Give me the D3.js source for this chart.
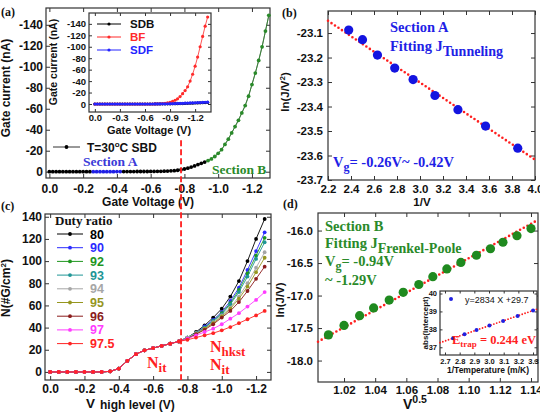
<!DOCTYPE html>
<html>
<head>
<meta charset="utf-8">
<script src="https://cdn.jsdelivr.net/npm/d3@7"></script>
<style>
  body { margin: 0; background: #fff; }
  svg { display: block; }
</style>
</head>
<body>
<svg id="fig" width="540" height="412"></svg>
<script>
// ---------- data ----------
// (a) gate current vs gate voltage, T=30C SBD
const gateV = [0, -0.02, -0.04, -0.06, -0.08, -0.10, -0.12, -0.14, -0.16, -0.18, -0.20, -0.22, -0.24, -0.26, -0.28, -0.30,
  -0.32, -0.34, -0.36, -0.38, -0.40, -0.42, -0.44, -0.46, -0.48, -0.50, -0.52, -0.54, -0.56, -0.58, -0.60, -0.62, -0.64,
  -0.66, -0.68, -0.70, -0.72, -0.74, -0.76, -0.78, -0.80, -0.82, -0.84, -0.86, -0.88, -0.90, -0.92, -0.94, -0.96, -0.98,
  -1.00, -1.02, -1.04, -1.06, -1.08, -1.10, -1.12, -1.14, -1.16, -1.18, -1.20, -1.22, -1.24, -1.26, -1.28, -1.30];
const gateI = [0, 0, 0, 0, 0, 0, 0, 0, 0, 0, 0, 0, 0, 0, 0, 0, 0, 0, 0, 0, -0.1, -0.1, -0.1, -0.1, -0.1, -0.1, -0.2, -0.2,
  -0.2, -0.2, -0.3, -0.3, -0.4, -0.4, -0.5, -0.6, -0.8, -1.0, -1.4, -1.9, -2.6, -3.4, -4.4, -5.5, -6.8, -8.0, -9.2, -10.6,
  -12.2, -14.5, -17.5, -21, -26, -31, -37, -43, -49, -56, -63, -72, -83, -94, -106, -119, -134, -149];
const sectionA = [-0.26, -0.42];
const sectionB = [-0.94, -1.30];

// (a) inset: SDB / BF / SDF
const insetV = [0, -0.03, -0.06, -0.09, -0.12, -0.15, -0.18, -0.21, -0.24, -0.27, -0.30, -0.33, -0.36, -0.39, -0.42, -0.45,
  -0.48, -0.51, -0.54, -0.57, -0.60, -0.63, -0.66, -0.69, -0.72, -0.75, -0.78, -0.81, -0.84, -0.87, -0.90, -0.93, -0.96,
  -0.99, -1.02, -1.05, -1.08, -1.11, -1.14, -1.17, -1.20, -1.23, -1.26, -1.29, -1.32, -1.35];
const sdbI = [0, 0, 0, 0, 0, 0, 0, 0, 0, 0, 0, 0, 0, 0, 0, 0, 0, 0, 0, 0, 0, 0, 0, 0,
  -0.1, -0.1, -0.1, -0.2, -0.2, -0.3, -0.3, -0.4, -0.5, -0.6, -0.7, -0.8, -1.0, -1.1, -1.3, -1.5, -1.7, -1.9, -2.1, -2.3, -2.5, -2.7];
const bfI = [0, 0, 0, 0, 0, 0, 0, 0, 0, 0, 0, 0, 0, 0, 0, 0, 0, 0, 0, 0, 0, 0, 0, 0,
  -0.1, -0.2, -0.4, -0.7, -1.2, -2, -3, -4.5, -6.5, -9, -13, -18, -23.5, -30, -40, -52, -66, -82, -100, -118, -136, -152];
const sdfI = [0, 0, 0, 0, 0, 0, 0, 0, 0, 0, 0, 0, 0, 0, 0, 0, 0, 0, 0, 0, 0, 0, 0, 0,
  -0.1, -0.1, -0.2, -0.2, -0.3, -0.4, -0.5, -0.6, -0.7, -0.9, -1.0, -1.2, -1.4, -1.6, -1.8, -2.0, -2.2, -2.4, -2.6, -2.8, -3.0, -3.2];

// (b) section A, tunneling fit
const invV = [2.38, 2.50, 2.63, 2.78, 2.94, 3.13, 3.33, 3.57, 3.85];
const lnJV2 = [-23.088, -23.127, -23.19, -23.243, -23.29, -23.355, -23.413, -23.48, -23.57];
const fitBx = [2.2, 4.0];
const fitBy = [-23.05, -23.617];

// (c) N vs V high level for each duty ratio
const vHigh = [0, -0.05, -0.10, -0.15, -0.20, -0.25, -0.30, -0.35, -0.40, -0.45, -0.50, -0.55, -0.60, -0.65, -0.70, -0.75,
  -0.80, -0.85, -0.90, -0.95, -1.00, -1.05, -1.10, -1.15, -1.20, -1.25];
const nCommon = [0, 0, 0, 0, 0, 0, 0, 0.5, 3, 10, 16, 19.5, 21.5, 23.5, 25.5, 27.5];
const n80 = [31, 36, 42, 49, 57, 68, 82, 100, 120, 138];
const n90 = [31, 35, 41, 47, 54, 64, 76, 92, 109, 126];
const n92 = [31, 35, 40, 46, 53, 62, 74, 89, 105, 121];
const n93 = [31, 35, 40, 46, 52, 61, 72, 86, 102, 117];
const n94 = [31, 35, 39, 45, 51, 58, 68, 80, 94, 108];
const n95 = [30, 34, 39, 44, 50, 57, 66, 77, 90, 103];
const n96 = [30, 34, 38, 43, 49, 55, 63, 73, 84, 95];
const n97 = [30, 33, 36, 39, 43, 48, 53, 59, 65, 72];
const n975 = [29, 31, 33, 35, 37.5, 40.5, 44, 47.5, 51, 55];
const dutyLabels = ["80", "90", "92", "93", "94", "95", "96", "97", "97.5"];
const dutyColors = ["#000000", "#2b2bff", "#1f961f", "#1f9696", "#a6a6a6", "#96961f", "#8b1c1c", "#ff3cff", "#ff2424"];
const dutyHigh = [n80, n90, n92, n93, n94, n95, n96, n97, n975];

// (d) section B, Frenkel-Poole fit
const sqrtV = [1.010, 1.020, 1.030, 1.039, 1.049, 1.058, 1.068, 1.077, 1.086, 1.095, 1.105, 1.114, 1.122, 1.131, 1.140];
const lnJV = [-17.605, -17.46, -17.31, -17.19, -17.07, -16.95, -16.83, -16.71, -16.59, -16.49, -16.38, -16.28, -16.18, -16.08, -15.97];
const fitDx = [1.0033, 1.1445];
const fitDy = [-17.71, -15.836];
// (d) inset: intercept vs 1/T
const invT = [2.755, 2.833, 2.915, 3.003, 3.096, 3.195, 3.300];
const absIntercept = [37.51, 37.73, 37.96, 38.21, 38.47, 38.75, 39.05];
const fitSlope = 2834, fitIntercept = 29.7;

// ---------- drawing ----------
const SANS = "'Liberation Sans', Arial, sans-serif";
const SERIF = "'Liberation Serif', 'Times New Roman', serif";
const RED = "#ff1f1f";
const BLUE = "#1f1fe6";
const GREEN = "#2a8a2a";

const svg = d3.select("#fig");
svg.append("rect").attr("width", 540).attr("height", 412).attr("fill", "#fff");

const f1 = v => v.toFixed(1);
const f2 = v => v.toFixed(2);

// frame with inward ticks on all four sides (Origin style)
function axes(g, x, y, o) {
  const [l, r] = x.range(), [b, t] = y.range();
  const tl = o.tl || 4;
  const style = s => {
    s.attr("font-family", SANS).attr("font-size", o.fs).attr("font-weight", "bold");
    s.select(".domain").remove();
    s.selectAll("line").attr("stroke", "#333");
    s.selectAll("text").attr("fill", "#111");
  };
  g.append("g").attr("transform", `translate(0,${b})`)
    .call(d3.axisBottom(x).tickValues(o.xt).tickFormat(o.xf).tickSizeInner(-tl).tickSizeOuter(0).tickPadding(o.xp))
    .call(style);
  g.append("g").attr("transform", `translate(0,${t})`)
    .call(d3.axisTop(x).tickValues(o.xt).tickFormat("").tickSizeInner(-tl).tickSizeOuter(0))
    .call(style);
  g.append("g").attr("transform", `translate(${l},0)`)
    .call(d3.axisLeft(y).tickValues(o.yt).tickFormat(o.yf).tickSizeInner(-tl).tickSizeOuter(0).tickPadding(o.yp))
    .call(style);
  g.append("g").attr("transform", `translate(${r},0)`)
    .call(d3.axisRight(y).tickValues(o.yt).tickFormat("").tickSizeInner(-tl).tickSizeOuter(0))
    .call(style);
  g.append("rect").attr("x", l).attr("y", t).attr("width", r - l).attr("height", b - t)
    .attr("fill", "none").attr("stroke", "#333").attr("stroke-width", 1.2);
}

function vLabel(g, cx, cy, fs, font) {
  return g.append("text").attr("transform", `translate(${cx},${cy}) rotate(-90)`)
    .attr("text-anchor", "middle").attr("font-family", font || SANS).attr("font-weight", "bold")
    .attr("font-size", fs).attr("fill", "#111");
}

function txt(g, x, y, fs, font, color) {
  return g.append("text").attr("x", x).attr("y", y).attr("font-family", font).attr("font-weight", "bold")
    .attr("font-size", fs).attr("fill", color || "#111");
}

// panel letters
[["(a)", 1, 16], ["(b)", 282, 17], ["(c)", 1, 210], ["(d)", 283, 208]].forEach(([s, x, y]) =>
  txt(svg, x, y, 12, SERIF).text(s));

// ===== (a) =====
const xA = d3.scaleLinear().domain([0.02, -1.307]).range([46, 270]);
const yA = d3.scaleLinear().domain([6, -156]).range([178, 8]);
const gA = svg.append("g");
axes(gA, xA, yA, { xt: d3.range(0, -1.21, -0.2), yt: d3.range(0, -141, -20), xf: f1, yf: d => d, fs: 12, xp: 6, yp: 3 });

const ptsA = gateV.map((v, i) => ({ v, i: gateI[i] }));
const inA = d => d.v <= sectionA[0] + 1e-9 && d.v >= sectionA[1] - 1e-9;
const inB = d => d.v <= sectionB[0] + 1e-9;
gA.append("path").datum(ptsA)
  .attr("d", d3.line().x(d => xA(d.v)).y(d => yA(d.i)))
  .attr("fill", "none").attr("stroke", "#444").attr("stroke-width", 0.8);
gA.append("path").datum(ptsA.filter(inB))
  .attr("d", d3.line().x(d => xA(d.v)).y(d => yA(d.i)))
  .attr("fill", "none").attr("stroke", GREEN).attr("stroke-width", 0.8);
gA.append("g").selectAll("circle").data(ptsA).join("circle")
  .attr("cx", d => xA(d.v)).attr("cy", d => yA(d.i)).attr("r", 1.9)
  .attr("fill", d => inB(d) ? GREEN : (inA(d) ? BLUE : "#000"));

// legend of (a)
gA.append("line").attr("x1", 53).attr("x2", 80).attr("y1", 147).attr("y2", 147).attr("stroke", "#333").attr("stroke-width", 1);
gA.append("circle").attr("cx", 66.5).attr("cy", 147).attr("r", 1.9).attr("fill", "#000");
const tA = txt(gA, 87, 151.5, 12, SANS);
tA.append("tspan").text("T=30");
tA.append("tspan").attr("font-size", 8).attr("dy", -5).text("o");
tA.append("tspan").attr("dy", 5).text("C SBD");
txt(gA, 83, 166, 13.5, SERIF, "#3a3ad8").text("Section A");
txt(gA, 212, 174, 13.5, SERIF, GREEN).text("Section B");
vLabel(gA, 10, 88, 12).text("Gate current (nA)");
txt(gA, 148, 206, 12, SANS).attr("text-anchor", "middle").text("Gate Voltage (V)");

// inset of (a)
const xI = d3.scaleLinear().domain([0.07, -1.39]).range([89, 211]);
const yI = d3.scaleLinear().domain([14, -159]).range([112, 13]);
const gI = svg.append("g");
gI.append("rect").attr("x", 89).attr("y", 13).attr("width", 122).attr("height", 99).attr("fill", "#fff");
axes(gI, xI, yI, { xt: [0, -0.3, -0.6, -0.9, -1.2], yt: d3.range(0, -141, -20), xf: f1, yf: d => d, fs: 9.5, xp: 2, yp: 3, tl: 3 });
const insetSeries = [
  { name: "SDB", vals: sdbI, color: "#000" },
  { name: "BF", vals: bfI, color: "#ff2a2a" },
  { name: "SDF", vals: sdfI, color: "#2424ff" }
];
insetSeries.forEach(s => {
  const pts = insetV.map((v, i) => ({ v, i: s.vals[i] }));
  gI.append("path").datum(pts).attr("d", d3.line().x(d => xI(d.v)).y(d => yI(d.i)))
    .attr("fill", "none").attr("stroke", s.color).attr("stroke-width", 0.8);
  gI.append("g").selectAll("circle").data(pts).join("circle")
    .attr("cx", d => xI(d.v)).attr("cy", d => yI(d.i)).attr("r", 1.6).attr("fill", s.color);
});
insetSeries.forEach((s, k) => {
  const yy = 24 + k * 13;
  gI.append("line").attr("x1", 97).attr("x2", 121).attr("y1", yy).attr("y2", yy).attr("stroke", s.color).attr("stroke-width", 1);
  gI.append("circle").attr("cx", 109).attr("cy", yy).attr("r", 1.6).attr("fill", s.color);
  txt(gI, 130, yy + 4, 11.5, SANS, s.color === "#000" ? "#111" : s.color).text(s.name);
});
vLabel(gI, 57, 62, 10.5).text("Gate current (nA)");
txt(gI, 149, 134, 11, SANS).attr("text-anchor", "middle").text("Gate Voltage (V)");

// ===== (b) =====
const xB = d3.scaleLinear().domain([2.2, 4.0]).range([328, 535]);
const yB = d3.scaleLinear().domain([-23.7, -23.01]).range([180, 11]);
const gB = svg.append("g");
axes(gB, xB, yB, { xt: d3.range(2.2, 4.01, 0.2), yt: d3.range(-23.7, -23.05, 0.1), xf: f1, yf: f1, fs: 11.5, xp: 5, yp: 5 });
gB.append("path").datum(fitBx.map((x, i) => [x, fitBy[i]]))
  .attr("d", d3.line().x(d => xB(d[0])).y(d => yB(d[1])))
  .attr("stroke", RED).attr("stroke-width", 2.6).attr("stroke-dasharray", "0 4.2").attr("stroke-linecap", "round").attr("fill", "none");
gB.selectAll("circle").data(invV).join("circle")
  .attr("cx", d => xB(d)).attr("cy", (d, i) => yB(lnJV2[i])).attr("r", 4.6).attr("fill", "#1414e0");
txt(gB, 390, 32, 14.5, SERIF, BLUE).text("Section A");
const tB = txt(gB, 390, 51, 14.5, SERIF, BLUE);
tB.append("tspan").text("Fitting  J");
tB.append("tspan").attr("dy", 5).attr("font-size", 14).text("Tunneling");
const vgB = txt(gB, 333, 167, 14.5, SERIF, BLUE);
vgB.append("tspan").text("V");
vgB.append("tspan").attr("dy", 4).attr("font-size", 12).text("g");
vgB.append("tspan").attr("dy", -4).text("= -0.26V~ -0.42V");
const lB = vLabel(gB, 289, 92, 11.5);
lB.append("tspan").text("ln(J/V");
lB.append("tspan").attr("dy", -4).attr("font-size", 8).text("2");
lB.append("tspan").attr("dy", 4).text(")");
txt(gB, 422, 206, 11.5, SANS).attr("text-anchor", "middle").text("1/V");

// ===== (c) =====
const xC = d3.scaleLinear().domain([0.03, -1.287]).range([45, 271]);
const yC = d3.scaleLinear().domain([-7.3, 142.5]).range([380, 214]);
const gC = svg.append("g");
axes(gC, xC, yC, { xt: d3.range(0, -1.21, -0.2), yt: d3.range(0, 141, 20), xf: f1, yf: d => d, fs: 12, xp: 4, yp: 3 });
dutyHigh.forEach((hi, k) => {
  const vals = nCommon.concat(hi);
  const pts = vHigh.map((v, i) => [v, vals[i]]);
  gC.append("path").datum(pts).attr("d", d3.line().x(d => xC(d[0])).y(d => yC(d[1])))
    .attr("fill", "none").attr("stroke", dutyColors[k]).attr("stroke-width", 0.9);
  gC.append("g").selectAll("circle").data(pts).join("circle")
    .attr("cx", d => xC(d[0])).attr("cy", d => yC(d[1])).attr("r", 1.9).attr("fill", dutyColors[k]);
});
txt(gC, 55, 225, 13, SERIF).text("Duty ratio");
dutyLabels.forEach((lab, k) => {
  const yy = 234 + k * 13.7;
  gC.append("line").attr("x1", 57).attr("x2", 83).attr("y1", yy).attr("y2", yy).attr("stroke", dutyColors[k]).attr("stroke-width", 1);
  gC.append("circle").attr("cx", 70).attr("cy", yy).attr("r", 1.9).attr("fill", dutyColors[k]);
  txt(gC, 90, yy + 4.5, 12.5, SANS, dutyColors[k]).text(lab);
});
function nLabel(x, y, sub) {
  const t = txt(gC, x, y, 16, SERIF, RED);
  t.append("tspan").text("N");
  t.append("tspan").attr("dy", 4).attr("font-size", 13).text(sub);
}
nLabel(147, 368, "it");
nLabel(210, 352, "hkst");
nLabel(210, 370, "it");
const lC = vLabel(gC, 10, 288, 12);
lC.append("tspan").text("N(#G/cm");
lC.append("tspan").attr("dy", -4).attr("font-size", 8).text("2");
lC.append("tspan").attr("dy", 4).text(")");
txt(gC, 86, 408, 13.5, SANS).text("V");
txt(gC, 100, 409, 12, SANS).text("high level (V)");

// dashed marker at -0.8 V running through (a) and (c)
svg.append("line").attr("x1", xA(-0.78)).attr("x2", xA(-0.78)).attr("y1", yA(-30)).attr("y2", yC.range()[0])
  .attr("stroke", RED).attr("stroke-width", 1.8).attr("stroke-dasharray", "6 3");

// ===== (d) =====
const xD = d3.scaleLinear().domain([1.0033, 1.1445]).range([318, 538]);
const yD = d3.scaleLinear().domain([-18.33, -15.73]).range([382, 213]);
const gD = svg.append("g");
axes(gD, xD, yD, { xt: d3.range(1.02, 1.141, 0.02), yt: [-18, -17.5, -17, -16.5, -16], xf: f2, yf: f1, fs: 11.5, xp: 4, yp: 5 });
gD.append("path").datum(fitDx.map((x, i) => [x, fitDy[i]]))
  .attr("d", d3.line().x(d => xD(d[0])).y(d => yD(d[1])))
  .attr("stroke", RED).attr("stroke-width", 2.6).attr("stroke-dasharray", "0 4.2").attr("stroke-linecap", "round").attr("fill", "none");
gD.selectAll("circle").data(sqrtV).join("circle")
  .attr("cx", d => xD(d)).attr("cy", (d, i) => yD(lnJV[i])).attr("r", 4.6).attr("fill", "#1f8a1f");
txt(gD, 325, 231, 14.5, SERIF, GREEN).text("Section B");
const tD = txt(gD, 325, 248, 14.5, SERIF, GREEN);
tD.append("tspan").text("Fitting  J");
tD.append("tspan").attr("dy", 5).attr("font-size", 14).text("Frenkel-Poole");
const vgD = txt(gD, 325, 266, 14.5, SERIF, GREEN);
vgD.append("tspan").text("V");
vgD.append("tspan").attr("dy", 4).attr("font-size", 12).text("g");
vgD.append("tspan").attr("dy", -4).text("= -0.94V");
txt(gD, 325, 285, 14.5, SERIF, GREEN).text("~ -1.29V");
vLabel(gD, 284, 300, 11.5).text("ln(J/V)");
const xl = txt(gD, 403, 409, 14, SANS);
xl.append("tspan").text("V");
xl.append("tspan").attr("dy", -6).attr("font-size", 10.5).text("0.5");

// inset of (d)
const xE = d3.scaleLinear().domain([2.666, 3.327]).range([440, 537]);
const yE = d3.scaleLinear().domain([36.57, 40.14]).range([355, 291]);
const gE = svg.append("g");
gE.append("rect").attr("x", 440).attr("y", 291).attr("width", 97).attr("height", 64).attr("fill", "#fff");
axes(gE, xE, yE, { xt: [2.7, 2.8, 2.9, 3.0, 3.1, 3.2, 3.3], yt: [37, 38, 39, 40], xf: f1, yf: d => d, fs: 7.5, xp: 4, yp: 3, tl: 2.5 });
const dE = xE.domain();
gE.append("path").datum(dE.map(x => [x, fitSlope * x / 1000 + fitIntercept]))
  .attr("d", d3.line().x(d => xE(d[0])).y(d => yE(d[1])))
  .attr("stroke", RED).attr("stroke-width", 1.8).attr("stroke-dasharray", "0 3").attr("stroke-linecap", "round").attr("fill", "none");
gE.selectAll("circle").data(invT).join("circle")
  .attr("cx", d => xE(d)).attr("cy", (d, i) => yE(absIntercept[i])).attr("r", 2).attr("fill", "#2020e0");
gE.append("circle").attr("cx", 451).attr("cy", 299).attr("r", 2).attr("fill", "#2020e0");
gE.append("text").attr("x", 465).attr("y", 302.5).attr("font-family", SANS).attr("font-size", 9).attr("fill", "#111")
  .text("y=2834 X +29.7");
const eT = txt(gE, 452, 344, 12.5, SERIF, RED);
eT.append("tspan").text("E");
eT.append("tspan").attr("dy", 3).attr("font-size", 9).text("trap");
eT.append("tspan").attr("dy", -3).text(" = 0.244 eV");
vLabel(gE, 428, 323, 8).text("abs(Intercept)");
txt(gE, 488, 373, 8.5, SANS).attr("text-anchor", "middle").text("1/Temperature (m/K)");
</script>
</body>
</html>
